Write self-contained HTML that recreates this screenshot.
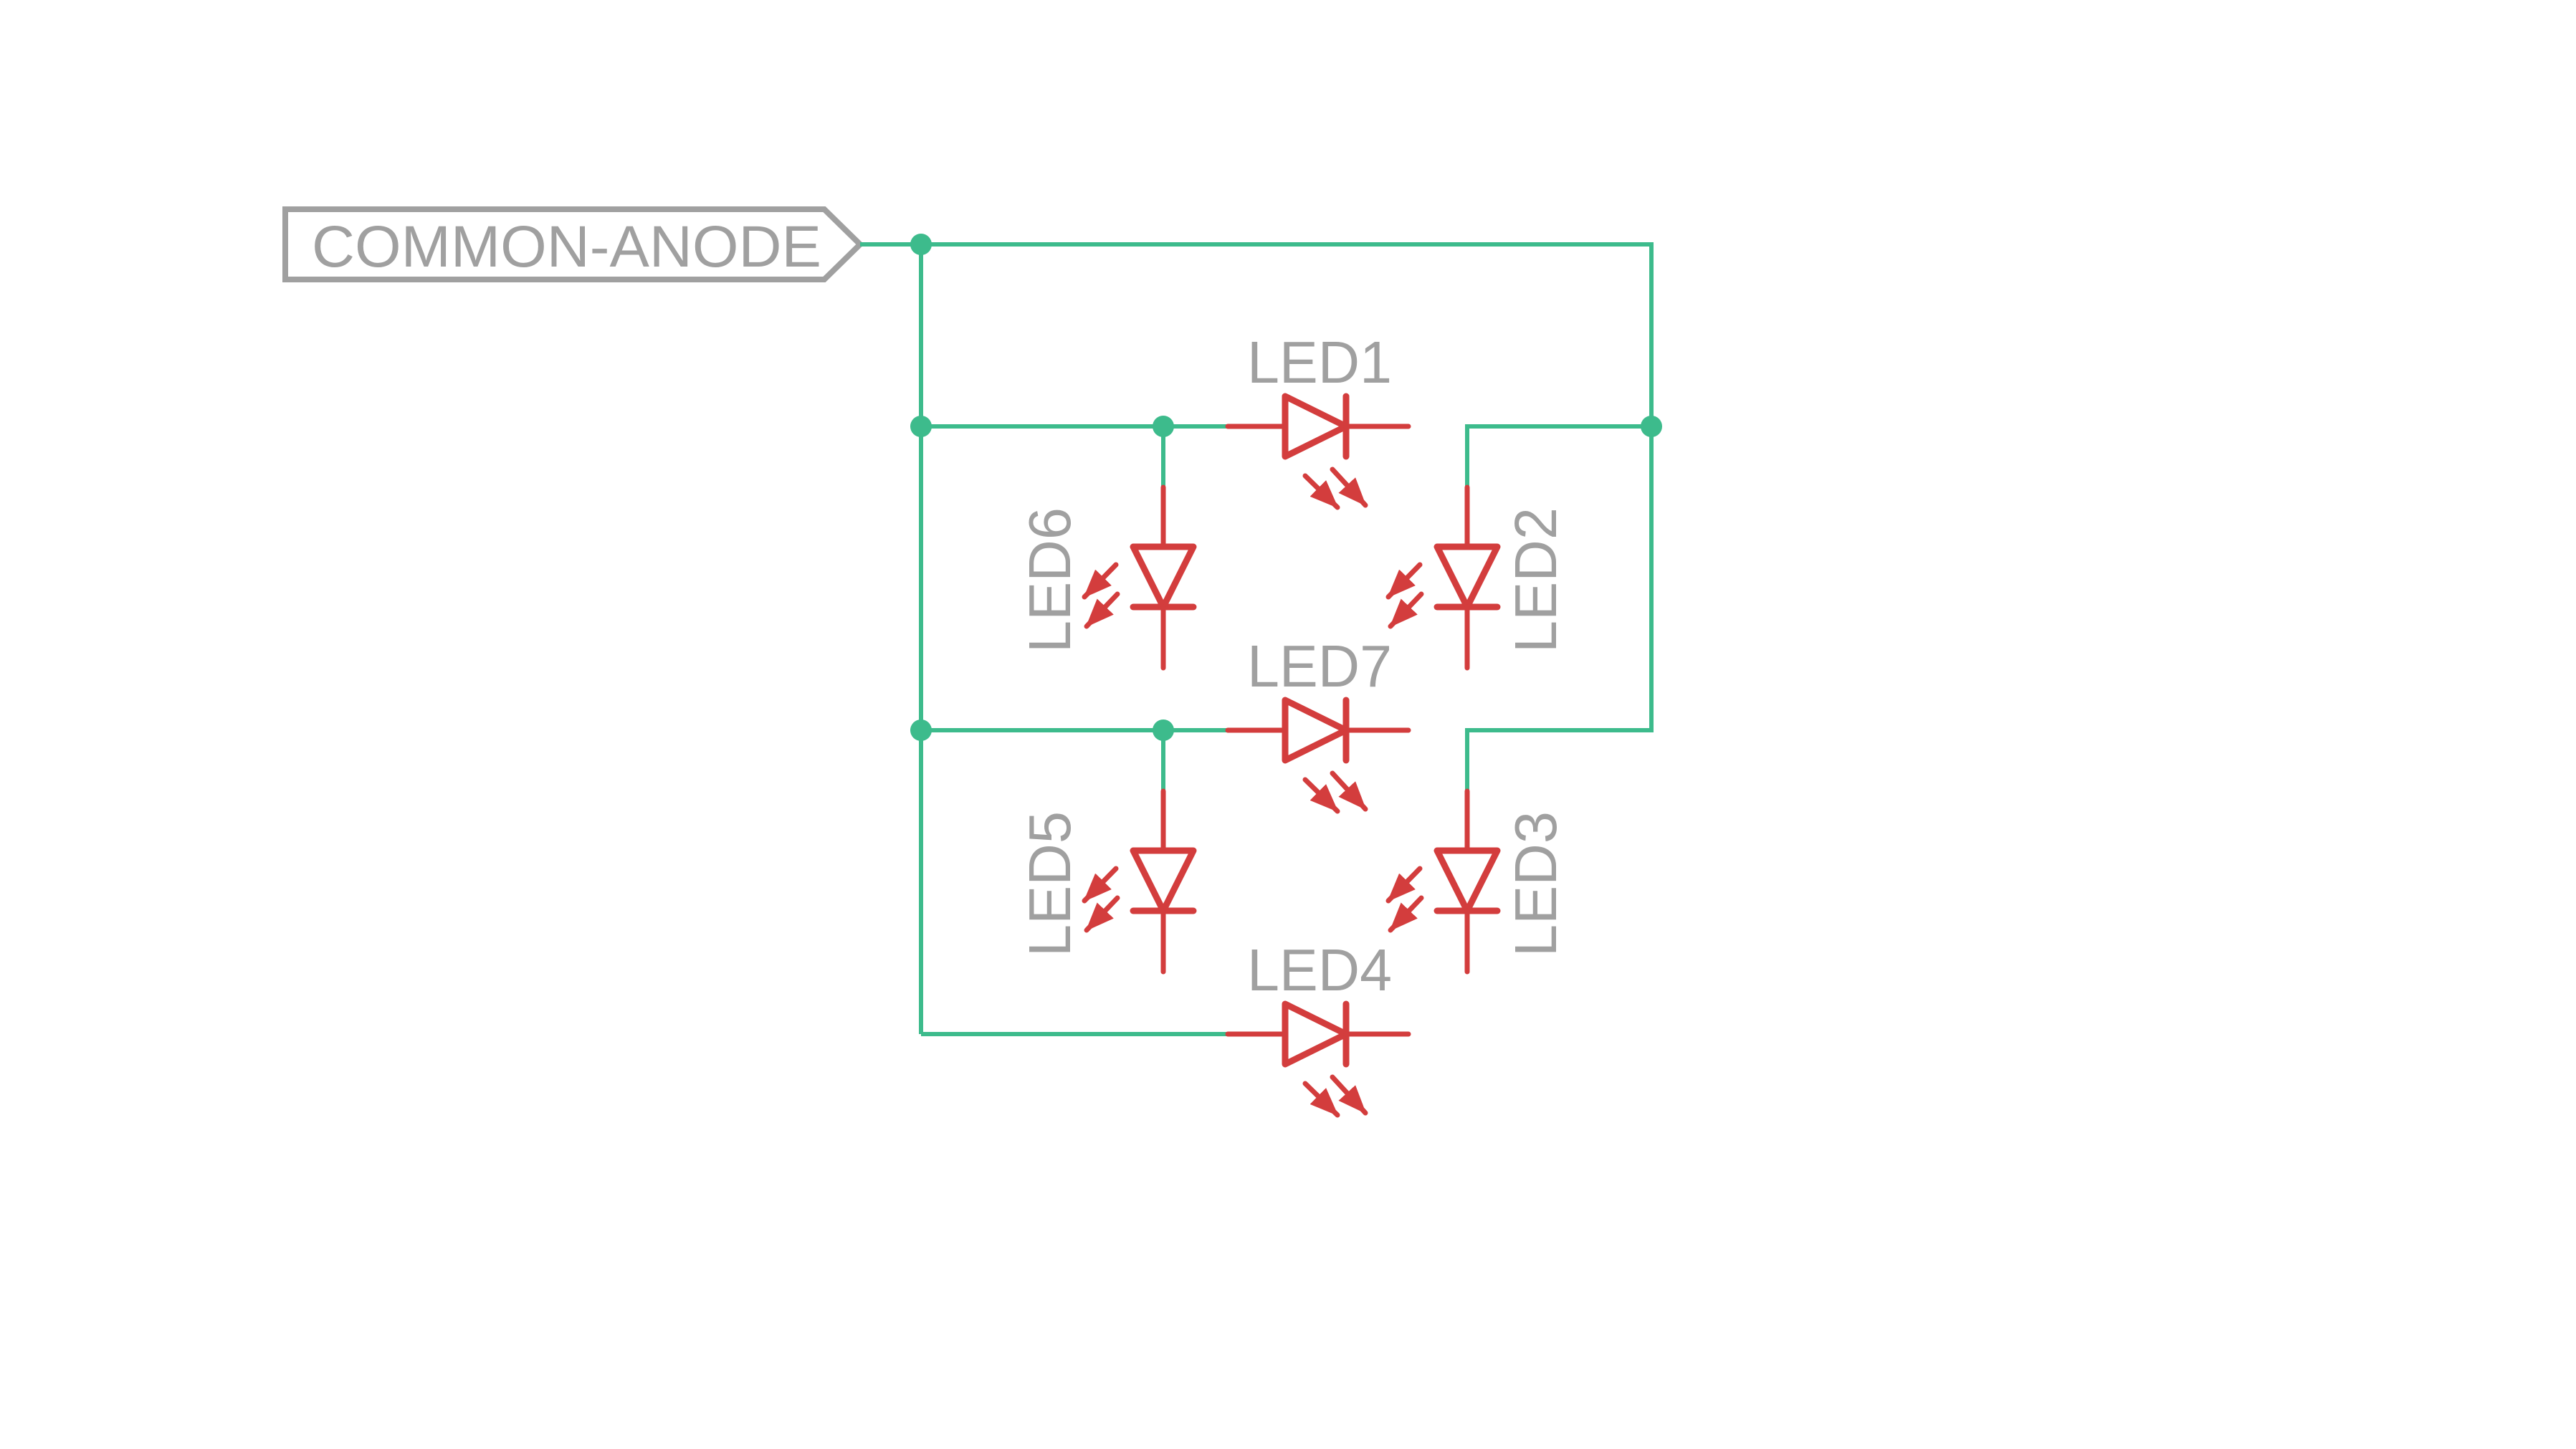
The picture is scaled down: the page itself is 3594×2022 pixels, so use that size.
<!DOCTYPE html>
<html><head><meta charset="utf-8"><style>html,body{margin:0;padding:0;background:#fff}svg{display:block}</style></head>
<body>
<svg width="3594" height="2022" viewBox="0 0 3594 2022" xmlns="http://www.w3.org/2000/svg">
<defs>
<marker id="ah" markerUnits="userSpaceOnUse" markerWidth="44" markerHeight="44" refX="38" refY="16" orient="auto">
<path d="M0,0 L40,16 L0,32 Z" fill="#d33d3d"/>
</marker>
<g id="hled" stroke="#d33d3d" stroke-width="7" fill="none" stroke-linecap="round" stroke-linejoin="round">
<line x1="0" y1="0" x2="80" y2="0"/>
<polygon points="80,-42 80,42 165,0" stroke-width="9"/>
<line x1="165" y1="-42" x2="165" y2="42" stroke-width="9"/>
<line x1="165" y1="0" x2="252" y2="0"/>
<line x1="108" y1="69" x2="153" y2="113" marker-end="url(#ah)"/>
<line x1="146" y1="60" x2="192" y2="110" marker-end="url(#ah)"/>
</g>
<g id="vled" stroke="#d33d3d" stroke-width="7" fill="none" stroke-linecap="round" stroke-linejoin="round">
<line x1="0" y1="0" x2="0" y2="83"/>
<polygon points="-42,83 42,83 0,167" stroke-width="9"/>
<line x1="-42" y1="167" x2="42" y2="167" stroke-width="9"/>
<line x1="0" y1="167" x2="0" y2="252"/>
<line x1="-66" y1="108" x2="-110" y2="153" marker-end="url(#ah)"/>
<line x1="-64" y1="149" x2="-107" y2="194" marker-end="url(#ah)"/>
</g>
</defs>

<!-- label -->
<polygon points="398,292 1150,292 1200,341 1150,390 398,390" fill="none" stroke="#a0a0a0" stroke-width="8"/>
<text x="435" y="372" font-family="Liberation Sans, sans-serif" font-size="82" fill="#a0a0a0" textLength="711" lengthAdjust="spacingAndGlyphs">COMMON-ANODE</text>

<!-- green wires -->
<g stroke="#3dbb8c" stroke-width="6" fill="none">
<polyline points="1200,341 2304,341 2304,1019 2047,1019 2047,1104"/>
<line x1="1285" y1="341" x2="1285" y2="1443"/>
<line x1="1285" y1="1443" x2="1713" y2="1443"/>
<line x1="1285" y1="595" x2="1713" y2="595"/>
<line x1="1285" y1="1019" x2="1713" y2="1019"/>
<polyline points="2047,680 2047,595 2304,595"/>
<line x1="1623" y1="595" x2="1623" y2="680"/>
<line x1="1623" y1="1019" x2="1623" y2="1104"/>
</g>
<g fill="#3dbb8c">
<circle cx="1285" cy="341" r="15"/>
<circle cx="1285" cy="595" r="15"/>
<circle cx="1623" cy="595" r="15"/>
<circle cx="2304" cy="595" r="15"/>
<circle cx="1285" cy="1019" r="15"/>
<circle cx="1623" cy="1019" r="15"/>
</g>

<!-- LEDs -->
<use href="#hled" x="1713" y="595"/>
<use href="#hled" x="1713" y="1019"/>
<use href="#hled" x="1713" y="1443"/>
<use href="#vled" x="1623" y="680"/>
<use href="#vled" x="2047" y="680"/>
<use href="#vled" x="1623" y="1104"/>
<use href="#vled" x="2047" y="1104"/>

<!-- LED labels -->
<g font-family="Liberation Sans, sans-serif" font-size="83" fill="#a0a0a0">
<text x="1740" y="534" textLength="202" lengthAdjust="spacingAndGlyphs">LED1</text>
<text x="1740" y="958" textLength="202" lengthAdjust="spacingAndGlyphs">LED7</text>
<text x="1740" y="1382" textLength="202" lengthAdjust="spacingAndGlyphs">LED4</text>
<text transform="translate(2171,911) rotate(-90)" textLength="203" lengthAdjust="spacingAndGlyphs">LED2</text>
<text transform="translate(1493,911) rotate(-90)" textLength="203" lengthAdjust="spacingAndGlyphs">LED6</text>
<text transform="translate(2171,1335) rotate(-90)" textLength="203" lengthAdjust="spacingAndGlyphs">LED3</text>
<text transform="translate(1493,1335) rotate(-90)" textLength="203" lengthAdjust="spacingAndGlyphs">LED5</text>
</g>
</svg>
</body></html>
